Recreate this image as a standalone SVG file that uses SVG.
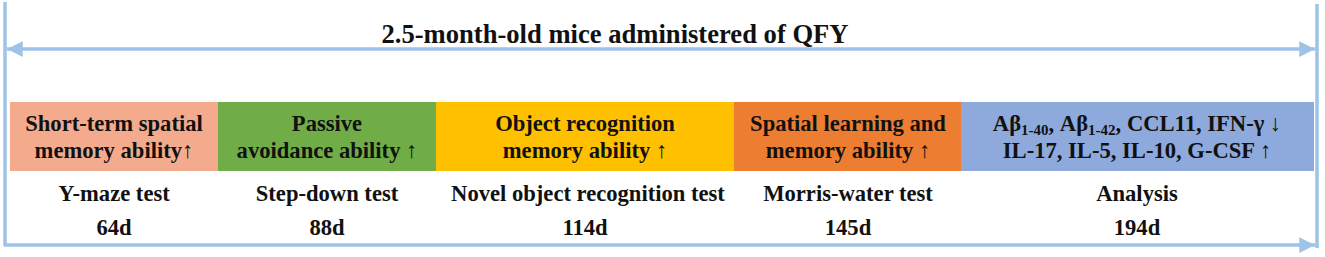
<svg xmlns="http://www.w3.org/2000/svg" width="1325" height="257" viewBox="0 0 1325 257">
<style>
.tx{font-family:"Liberation Serif","Times New Roman",serif;font-weight:bold;fill:#111;text-anchor:middle}
.t{font-size:22.6px}
.h{font-size:26.6px}
.ln{stroke:#9DC3E6;stroke-width:3.5;fill:none}
</style>
<defs>
<marker id="ah" viewBox="0 0 10 10" refX="10" refY="5" markerWidth="4.5" markerHeight="4.5" orient="auto-start-reverse" markerUnits="strokeWidth">
<path d="M0,0 L10,5 L0,10 z" fill="#9DC3E6"/>
</marker>
</defs>
<g id="connectors">
<line class="ln" x1="5" y1="2" x2="5" y2="246"/>
<line class="ln" x1="1317" y1="4" x2="1317" y2="248"/>
<line class="ln" x1="7" y1="49" x2="1315" y2="49" marker-start="url(#ah)" marker-end="url(#ah)"/>
<line class="ln" x1="4" y1="245" x2="1315" y2="245" marker-end="url(#ah)"/>
</g>
<g class="tx">
<g id="title"><text class="h" x="615" y="43">2.5-month-old mice administered of QFY</text></g>
<g id="n1">
<rect x="10" y="102" width="209" height="69" fill="#F4AB8D"/>
<text class="t" x="114" y="131">Short-term spatial</text>
<text class="t" x="114" y="158">memory ability↑</text>
<text class="t" x="114" y="201">Y-maze test</text>
<text class="t" x="114" y="235">64d</text>
</g>
<g id="n2">
<rect x="218" y="102" width="219" height="69" fill="#70AD47"/>
<text class="t" x="327" y="131">Passive</text>
<text class="t" x="327" y="158">avoidance ability ↑</text>
<text class="t" x="327" y="201">Step-down test</text>
<text class="t" x="327" y="235">88d</text>
</g>
<g id="n3">
<rect x="436" y="102" width="299" height="69" fill="#FFC000"/>
<text class="t" x="585" y="131">Object recognition</text>
<text class="t" x="585" y="158">memory ability ↑</text>
<text class="t" x="588" y="201">Novel object recognition test</text>
<text class="t" x="585" y="235">114d</text>
</g>
<g id="n4">
<rect x="734" y="102" width="228" height="69" fill="#ED7D31"/>
<text class="t" x="848" y="131">Spatial learning and</text>
<text class="t" x="848" y="158">memory ability ↑</text>
<text class="t" x="848" y="201">Morris-water test</text>
<text class="t" x="848" y="235">145d</text>
</g>
<g id="n5">
<rect x="961" y="102" width="353" height="69" fill="#8EA9DB"/>
<text class="t" x="1137" y="131">Aβ<tspan font-size="15" dy="4">1-40</tspan><tspan dy="-4">, Aβ</tspan><tspan font-size="15" dy="4">1-42</tspan><tspan dy="-4">, CCL11, IFN-γ ↓</tspan></text>
<text class="t" x="1137" y="158">IL-17, IL-5, IL-10, G-CSF ↑</text>
<text class="t" x="1137" y="201">Analysis</text>
<text class="t" x="1137" y="235">194d</text>
</g>
</g>
</svg>
